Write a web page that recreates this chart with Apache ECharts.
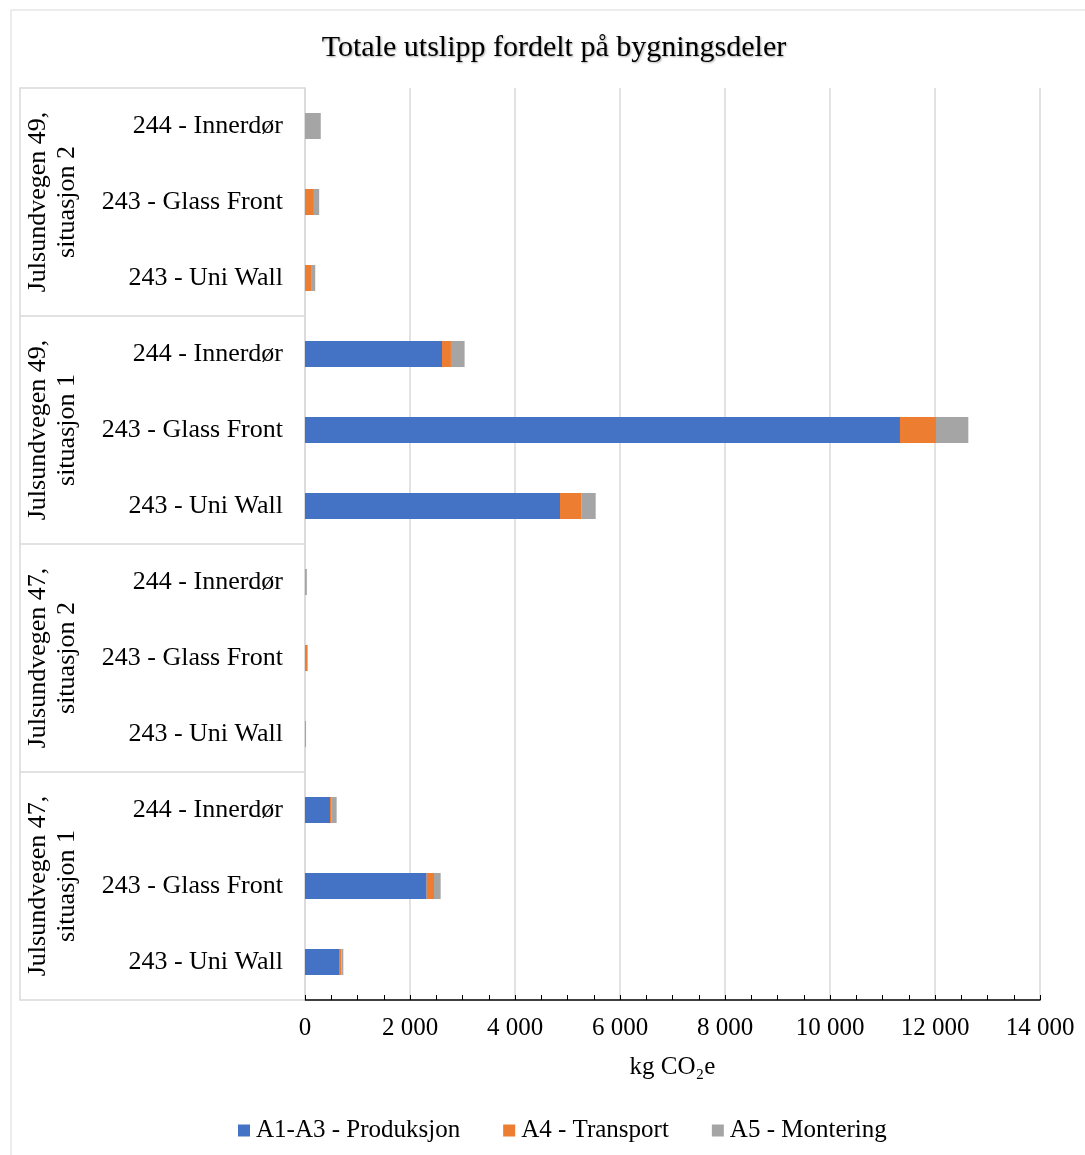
<!DOCTYPE html>
<html>
<head>
<meta charset="utf-8">
<script src="https://cdn.jsdelivr.net/npm/echarts@6/dist/echarts.min.js"></script>
<style>
  html, body { margin: 0; padding: 0; background: #fff; }
  #chart { width: 1085px; height: 1155px; }
</style>
</head>
<body>
<div id="chart"></div>
<script>
// Building parts, listed bottom to top
const bygningsdeler = [
  '243 - Uni Wall', '243 - Glass Front', '244 - Innerdør',
  '243 - Uni Wall', '243 - Glass Front', '244 - Innerdør',
  '243 - Uni Wall', '243 - Glass Front', '244 - Innerdør',
  '243 - Uni Wall', '243 - Glass Front', '244 - Innerdør'
];
// Scenario groups, three building parts each
const situasjoner = [
  'Julsundvegen 47,\nsituasjon 1',
  'Julsundvegen 47,\nsituasjon 2',
  'Julsundvegen 49,\nsituasjon 1',
  'Julsundvegen 49,\nsituasjon 2'
];
// Emissions in kg CO2e per life-cycle module
const produksjon = [648, 2317, 476, 0, 0, 0, 4857, 11333, 2610, 0, 0, 0];
const transport  = [44, 140, 32, 15, 50, 0, 413, 686, 170, 115, 170, 15];
const montering  = [38, 127, 95, 5, 0, 35, 267, 616, 260, 80, 100, 285];

const serif = 'Liberation Serif';
const grey = '#d9d9d9';
const fmt = v => String(v).replace(/\B(?=(\d{3})+(?!\d))/g, ' ');

const chart = echarts.init(document.getElementById('chart'), null, { renderer: 'canvas' });

const barBase = { type: 'bar', stack: 'total', barWidth: 26, yAxisIndex: 0 };

chart.setOption({
  animation: false,
  textStyle: { fontFamily: serif },
  title: {
    text: 'Totale utslipp fordelt på bygningsdeler',
    left: 549,
    top: 28,
    textAlign: 'center',
    textStyle: {
      fontFamily: serif, fontSize: 30, fontWeight: 'normal', color: '#000',
      textShadowColor: 'rgba(0,0,0,0.35)', textShadowBlur: 2,
      textShadowOffsetX: 1, textShadowOffsetY: 1
    }
  },
  graphic: [{
    type: 'rect', silent: true, z: -1,
    shape: { x: 11, y: 10, width: 1090, height: 1160 },
    style: { fill: 'none', stroke: grey, lineWidth: 1 }
  }],
  legend: {
    left: 233,
    top: 1113,
    itemWidth: 12,
    itemHeight: 12,
    itemGap: 43,
    icon: 'rect',
    textStyle: { fontFamily: serif, fontSize: 25, color: '#000', padding: [0, 0, 0, 1] },
    data: ['A1-A3 - Produksjon', 'A4 - Transport', 'A5 - Montering']
  },
  grid: { left: 305, right: 45, top: 88, bottom: 155, containLabel: false },
  xAxis: {
    type: 'value',
    min: 0, max: 14000, interval: 2000,
    name: 'kg CO₂e',
    nameLocation: 'middle',
    nameGap: 55,
    nameTextStyle: { fontFamily: serif, fontSize: 25, color: '#000' },
    axisLine: { show: true, lineStyle: { color: '#000', width: 1.5 } },
    axisTick: { show: true, inside: true, length: 5, lineStyle: { color: '#000' } },
    minorTick: { show: true, splitNumber: 4, length: 5, lineStyle: { color: '#000' } },
    axisLabel: { fontFamily: serif, fontSize: 25, color: '#000', margin: 16, formatter: fmt },
    splitLine: { show: true, lineStyle: { color: grey, width: 1.5 } }
  },
  yAxis: [{
    type: 'category',
    data: bygningsdeler,
    position: 'left',
    axisLine: { show: true, lineStyle: { color: grey, width: 1.5 } },
    axisTick: { show: false },
    axisLabel: { fontFamily: serif, fontSize: 26, color: '#000', margin: 22, interval: 0 },
    splitLine: { show: false }
  }, {
    type: 'category',
    data: situasjoner,
    position: 'left',
    offset: 285,
    axisLine: { show: true, lineStyle: { color: grey, width: 1.5 } },
    axisTick: { show: true, inside: true, length: 285, lineStyle: { color: grey, width: 1.5 } },
    axisLabel: {
      inside: true, rotate: 90, margin: 4, interval: 0,
      fontFamily: serif, fontSize: 26, lineHeight: 29, color: '#000'
    },
    splitLine: { show: false }
  }],
  series: [
    Object.assign({ name: 'A1-A3 - Produksjon', data: produksjon, itemStyle: { color: '#4472C4' } }, barBase),
    Object.assign({ name: 'A4 - Transport', data: transport, itemStyle: { color: '#ED7D31' } }, barBase),
    Object.assign({ name: 'A5 - Montering', data: montering, itemStyle: { color: '#A5A5A5' } }, barBase)
  ]
});
</script>
</body>
</html>
